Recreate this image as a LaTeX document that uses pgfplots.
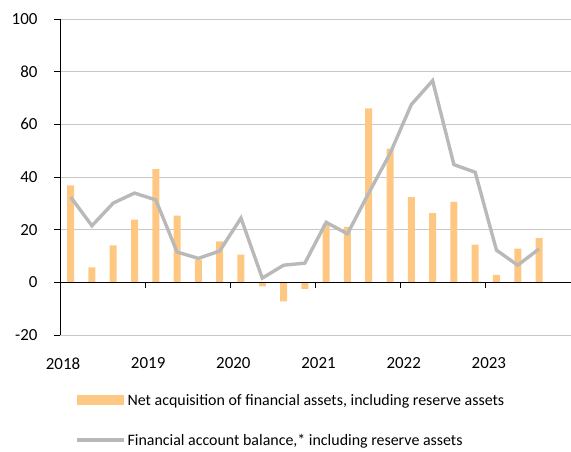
\documentclass[border=0pt]{standalone}
\usepackage{pgfplots}
\pgfplotsset{compat=1.18}
\usepackage{fontspec}
\setmainfont{Carlito}
\definecolor{barc}{RGB}{255,200,130}
\definecolor{linec}{RGB}{185,185,185}
\definecolor{gridc}{RGB}{200,200,200}
\begin{document}
\begin{tikzpicture}
\path[use as bounding box] (-60bp,-117bp) rectangle (511bp,335bp);
\begin{axis}[
  at={(0,0)}, anchor=south west,
  scale only axis, width=511bp, height=316bp,
  xmin=0, xmax=24, ymin=-20, ymax=100,
  ytick={-20,0,...,100},
  xtick={0,4,...,20},
  xticklabels={2018,2019,2020,2021,2022,2023},
  axis y line*=left, axis x line*=bottom,
  x axis line style={draw=none},
  xtick style={draw=none},
  ytick style={black, line width=0.8pt},
  y axis line style={black, line width=0.8pt},
  tick align=outside,
  major tick length=6bp,
  ymajorgrids, grid style={gridc, line width=0.8pt},
  /pgf/number format/assume math mode=true,
  tick label style={font=\fontsize{17}{20}\selectfont},
  xticklabel style={yshift=-13bp, xshift=3bp},
  yticklabel style={xshift=-13bp},
  legend style={draw=none, fill=none, at={(axis description cs:0,0)}, anchor=north west,
    xshift=12bp, yshift=-55bp, font=\fontsize{16}{18}\selectfont, row sep=23bp,
    /tikz/every even column/.append style={column sep=1bp}},
  legend cell align=left,
  clip=false,
]
\addplot[ybar, bar width=7bp, fill=barc, draw=none,
  legend image code/.code={\fill[barc] (0bp,-5bp) rectangle (47bp,5bp);}]
  coordinates {
  (0.5,36.8) (1.5,5.7) (2.5,14.0) (3.5,23.8) (4.5,43.0) (5.5,25.3) (6.5,8.6) (7.5,15.6)
  (8.5,10.5) (9.5,-1.5) (10.5,-7.2) (11.5,-2.5) (12.5,22.0) (13.5,21.1) (14.5,66.1)
  (15.5,50.8) (16.5,32.4) (17.5,26.3) (18.5,30.6) (19.5,14.3) (20.5,2.8) (21.5,12.8) (22.5,16.8)
  };
\addlegendentry{Net acquisition of financial assets, including reserve assets}
\addplot[linec, line width=3.4bp, mark=none,
  legend image code/.code={\draw[linec, line width=3.4bp] (0bp,0bp) -- (47bp,0bp);}]
  coordinates {
  (0.5,32.4) (1.5,21.5) (2.5,30.1) (3.5,33.9) (4.5,31.3) (5.5,11.5) (6.5,9.1) (7.5,11.9)
  (8.5,24.4) (9.5,1.6) (10.5,6.5) (11.5,7.3) (12.5,22.8) (13.5,18.4) (14.5,33.9)
  (15.5,48.9) (16.5,67.5) (17.5,76.6) (18.5,44.7) (19.5,41.8) (20.5,12.2) (21.5,6.5) (22.5,12.7)
  };
\addlegendentry{Financial account balance,* including reserve assets}
\draw[black, line width=1.1bp] (axis cs:0,0) -- (axis cs:24,0);
\draw[black, line width=0.8pt] (axis cs:4,0) -- ([yshift=-6bp]axis cs:4,0);
\draw[black, line width=0.8pt] (axis cs:8,0) -- ([yshift=-6bp]axis cs:8,0);
\draw[black, line width=0.8pt] (axis cs:12,0) -- ([yshift=-6bp]axis cs:12,0);
\draw[black, line width=0.8pt] (axis cs:16,0) -- ([yshift=-6bp]axis cs:16,0);
\draw[black, line width=0.8pt] (axis cs:20,0) -- ([yshift=-6bp]axis cs:20,0);
\draw[black, line width=0.8pt] (axis cs:24,0) -- ([yshift=-6bp]axis cs:24,0);
\end{axis}
\end{tikzpicture}
\end{document}
